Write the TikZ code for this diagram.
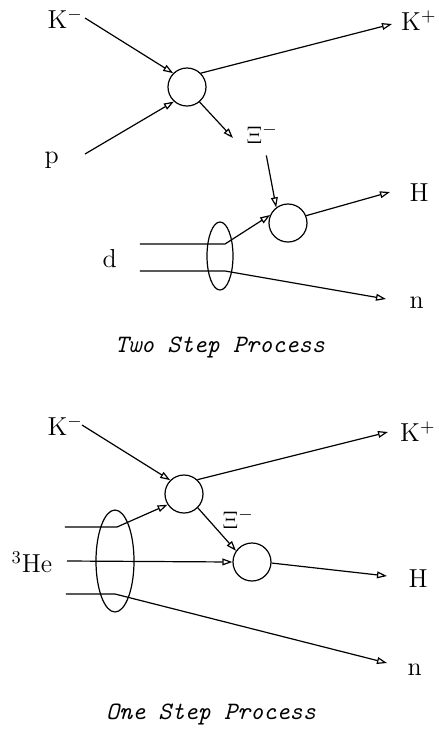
\documentclass[tikz,border=0pt]{standalone}
\usepackage{amsmath,amssymb}
\usepackage{tikz}
\usetikzlibrary{arrows.meta,shapes.geometric,calc}
\tikzset{
    >={Triangle[open,length=5pt,width=3.4pt]},
    vertex/.style={circle, draw, minimum size=19pt, inner sep=0pt},
    bundle/.style={ellipse, draw, inner sep=0pt, minimum width=13pt, minimum height=34pt},
    lbl/.style={inner sep=0pt, anchor=base west, font=\fontsize{13}{15}\selectfont},
    caption/.style={inner sep=0pt, font=\fontsize{12.5}{15}\selectfont\ttfamily\itshape}
}

\begin{document}
\begin{tikzpicture}[x=0.5pt, y=-0.5pt, line width=0.6pt]
    \useasboundingbox (0,0) rectangle (439,736);

    % two step process
    \node[vertex] (v1) at (187,87) {};
    \node[vertex] (v2) at (288,223) {};
    \node[bundle] (b1) at (220,256) {};
    \node[lbl] (km1) at (47,28) {K$^-$};
    \node[lbl] (p) at (44,163) {p};
    \node[lbl, anchor=base east] (kp1) at (437,30) {K$^+$};
    \node[lbl] (xi1) at (246,143) {$\Xi^-$};
    \node[lbl] (h1) at (409,201) {H};
    \node[lbl] (d) at (102,267) {d};
    \node[lbl] (n1) at (409,308) {n};
    \node[caption] (t1) at (220,347) {Two Step Process};

    \coordinate (a1) at (85,18);
    \coordinate (a2) at (85,154);
    \coordinate (a3) at (392,24);
    \coordinate (a4) at (233,138);
    \coordinate (a5) at (390,192);
    \coordinate (a6) at (140,244);
    \coordinate (a7) at (225,244);
    \coordinate (a8) at (140,271);
    \coordinate (a9) at (225,271);
    \coordinate (a10) at (386,299);

    \draw[->] (a1) -- (v1.135);
    \draw[->] (a2) -- (v1.228);
    \draw[->] (v1.45) -- (a3);
    \draw[->] (v1.-50) -- (a4);
    \draw[->, shorten <=6pt] (xi1) -- (v2.127);
    \draw[->] (v2.22) -- (a5);
    \draw[->] (a6) -- (a7) -- (v2.156);
    \draw[->] (a8) -- (a9) -- (a10);

    % one step process
    \node[vertex] (v3) at (184,494) {};
    \node[vertex] (v4) at (252,562) {};
    \node[bundle, minimum width=19pt, minimum height=51pt] (b2) at (115,561) {};
    \node[lbl] (km2) at (47,435) {K$^-$};
    \node[lbl, anchor=base east] (kp2) at (436,441) {K$^+$};
    \node[lbl] (he) at (11,572) {$^3$He};
    \node[lbl] (xi2) at (222,528) {$\Xi^-$};
    \node[lbl] (h2) at (408,587) {H};
    \node[lbl] (n2) at (407,675) {n};
    \node[caption] (t2) at (211,714) {One Step Process};

    \coordinate (c1) at (82,425);
    \coordinate (c2) at (388,432);
    \coordinate (c3) at (65,527);
    \coordinate (c4) at (117,527);
    \coordinate (c5) at (67,561);
    \coordinate (c6) at (387,576);
    \coordinate (c7) at (66,594);
    \coordinate (c8) at (115,594);
    \coordinate (c9) at (387,663);

    \draw[->] (c1) -- (v3.135);
    \draw[->] (v3.47) -- (c2);
    \draw[->] (c3) -- (c4) -- (v3.213);
    \draw[->] (c5) -- (v4.180);
    \draw[->] (v3.-45) -- (v4.145);
    \draw[->] (v4.-3) -- (c6);
    \draw[->] (c7) -- (c8) -- (c9);
\end{tikzpicture}
\end{document}
